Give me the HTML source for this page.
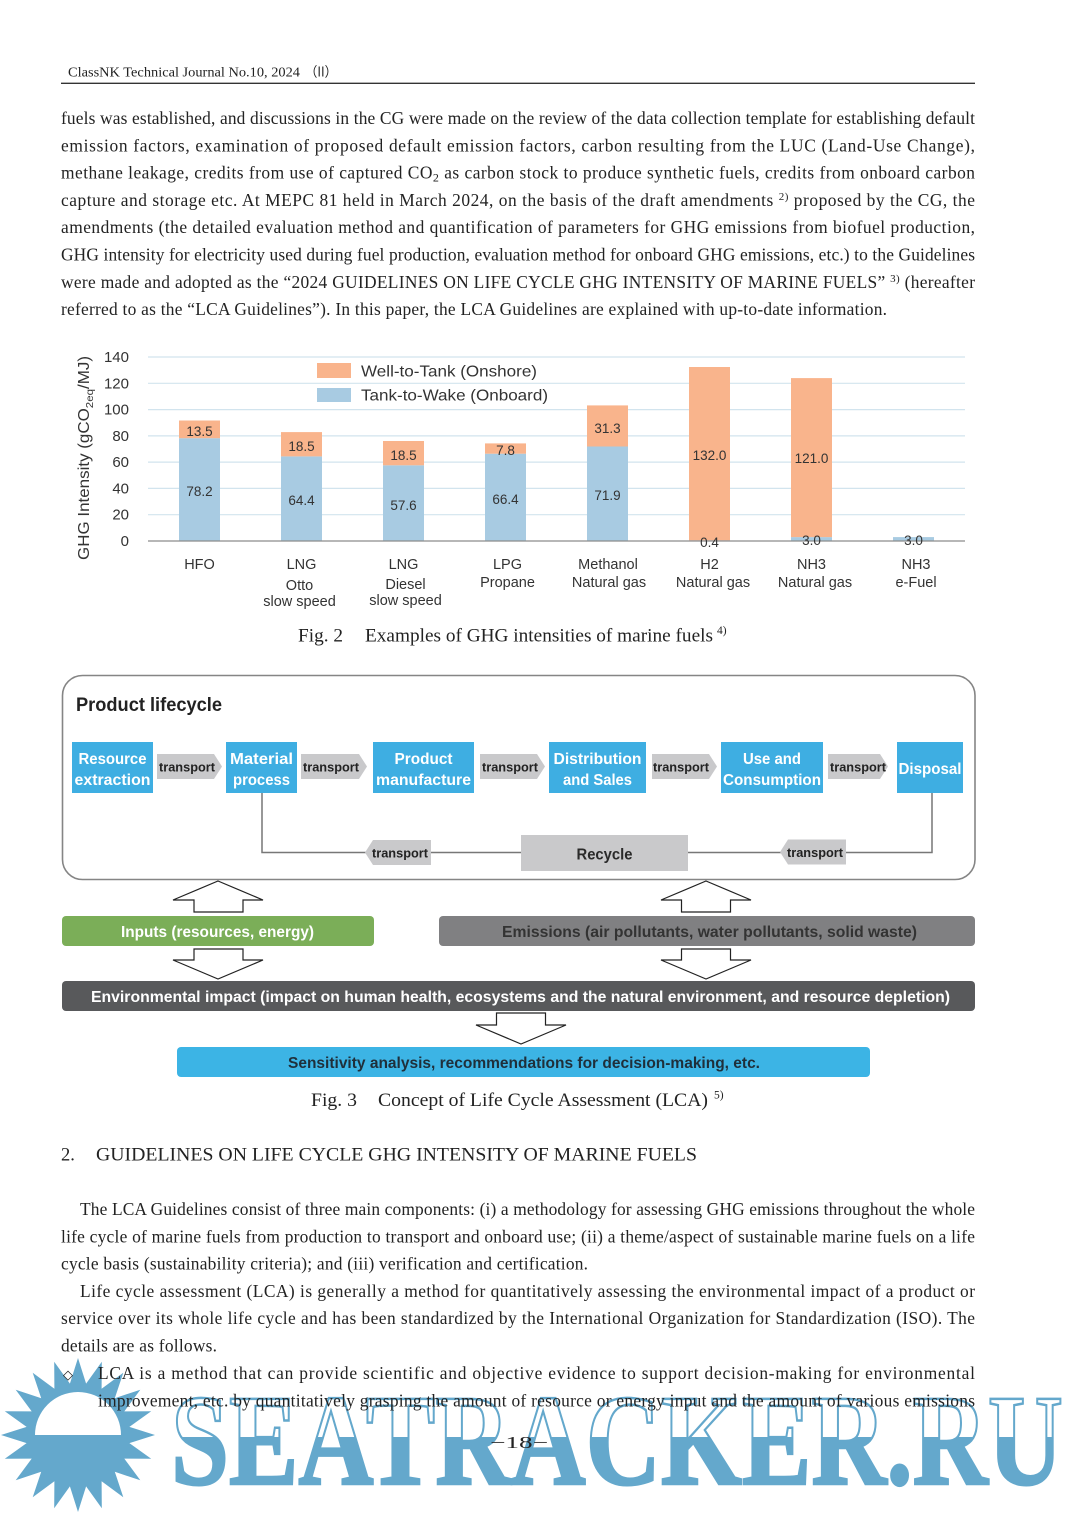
<!DOCTYPE html>
<html><head><meta charset="utf-8"><style>
html,body{margin:0;padding:0;background:#fff}
svg{display:block}
</style></head><body>
<svg width="1080" height="1515" viewBox="0 0 1080 1515" xmlns="http://www.w3.org/2000/svg">
<defs>
<linearGradient id="wm" x1="0" y1="1398" x2="0" y2="1484" gradientUnits="userSpaceOnUse">
<stop offset="0" stop-color="#64a8cc" stop-opacity="0"/>
<stop offset="0.453" stop-color="#64a8cc" stop-opacity="0"/>
<stop offset="0.453" stop-color="#64a8cc" stop-opacity="1"/>
<stop offset="1" stop-color="#64a8cc" stop-opacity="1"/>
</linearGradient>
</defs>
<rect width="1080" height="1515" fill="#fff"/>

<!-- Watermark (drawn first, text on top) -->
<polygon fill="#64a8cc" points="78,1358 86.1,1383.6 101.8,1361.8 101.6,1388.7 123.3,1372.7 114.8,1398.2 140.3,1389.7 124.3,1411.4 151.2,1411.2 129.4,1426.9 155,1435 129.4,1443.1 151.2,1458.8 124.3,1458.6 140.3,1480.3 114.8,1471.8 123.3,1497.3 101.6,1481.3 101.8,1508.2 86.1,1486.4 78,1512 69.9,1486.4 54.2,1508.2 54.4,1481.3 32.7,1497.3 41.2,1471.8 15.7,1480.3 31.7,1458.6 4.8,1458.8 26.6,1443.1 1,1435 26.6,1426.9 4.8,1411.2 31.7,1411.4 15.7,1389.7 41.2,1398.2 32.7,1372.7 54.4,1388.7 54.2,1361.8 69.9,1383.6"/>
<path d="M35,1435 A43,43 0 0 1 121,1435 Z" fill="#fff"/>
<text x="171" y="1484" font-family="'Liberation Serif', serif" font-weight="bold" font-size="130" textLength="892" lengthAdjust="spacingAndGlyphs" fill="url(#wm)" stroke="#64a8cc" stroke-width="2.5">SEATRACKER.RU</text>

<!-- Header -->
<g font-family="'Liberation Serif', 'Noto Serif CJK SC', serif" fill="#222">
<text x="68" y="76.5" font-size="13.5" textLength="232" lengthAdjust="spacingAndGlyphs">ClassNK Technical Journal No.10, 2024</text>
<text x="305" y="76.5" font-size="13.5" font-family="'Noto Sans CJK JP', sans-serif" textLength="32" lengthAdjust="spacingAndGlyphs">（II）</text>
</g>
<line x1="61" y1="83.3" x2="975" y2="83.3" stroke="#333" stroke-width="1.3"/>

<!-- Body text block 1 -->
<g font-family="'Liberation Serif', serif" font-size="17.4" fill="#222">
<text x="61" y="124" textLength="914" lengthAdjust="spacing">fuels was established, and discussions in the CG were made on the review of the data collection template for establishing default</text>
<text x="61" y="151.3" textLength="914" lengthAdjust="spacing">emission factors, examination of proposed default emission factors, carbon resulting from the LUC (Land-Use Change),</text>
<text x="61" y="178.6" textLength="914" lengthAdjust="spacing">methane leakage, credits from use of captured CO<tspan dy="3" font-size="12">2</tspan><tspan dy="-3"> as carbon stock to produce synthetic fuels, credits from onboard carbon</tspan></text>
<text x="61" y="205.9" textLength="914" lengthAdjust="spacing">capture and storage etc. At MEPC 81 held in March 2024, on the basis of the draft amendments <tspan dy="-6" font-size="11">2)</tspan><tspan dy="6"> proposed by the CG, the</tspan></text>
<text x="61" y="233.2" textLength="914" lengthAdjust="spacing">amendments (the detailed evaluation method and quantification of parameters for GHG emissions from biofuel production,</text>
<text x="61" y="260.5" textLength="914" lengthAdjust="spacing">GHG intensity for electricity used during fuel production, evaluation method for onboard GHG emissions, etc.) to the Guidelines</text>
<text x="61" y="287.8" textLength="914" lengthAdjust="spacing">were made and adopted as the “2024 GUIDELINES ON LIFE CYCLE GHG INTENSITY OF MARINE FUELS” <tspan dy="-6" font-size="11">3)</tspan><tspan dy="6"> (hereafter</tspan></text>
<text x="61" y="315.1" textLength="826" lengthAdjust="spacing">referred to as the “LCA Guidelines”). In this paper, the LCA Guidelines are explained with up-to-date information.</text>
</g>

<!-- Chart (Fig. 2) -->
<g>
<g stroke="#d2e4ee" stroke-width="1.2">
<line x1="148" y1="357" x2="965" y2="357"/>
<line x1="148" y1="383.3" x2="965" y2="383.3"/>
<line x1="148" y1="409.6" x2="965" y2="409.6"/>
<line x1="148" y1="435.9" x2="965" y2="435.9"/>
<line x1="148" y1="462.1" x2="965" y2="462.1"/>
<line x1="148" y1="488.4" x2="965" y2="488.4"/>
<line x1="148" y1="514.7" x2="965" y2="514.7"/>
</g>
<g fill="#a8cbe2">
<rect x="179" y="438.2" width="41" height="102.8"/>
<rect x="281" y="456.4" width="41" height="84.6"/>
<rect x="383" y="465.3" width="41" height="75.7"/>
<rect x="485" y="453.7" width="41" height="87.3"/>
<rect x="587" y="446.5" width="41" height="94.5"/>
<rect x="689" y="540.3" width="41" height="0.7"/>
<rect x="791" y="537.1" width="41" height="3.9"/>
<rect x="893" y="537.1" width="41" height="3.9"/>
</g>
<g fill="#f9b48c">
<rect x="179" y="420.5" width="41" height="17.7"/>
<rect x="281" y="432.1" width="41" height="24.3"/>
<rect x="383" y="441.0" width="41" height="24.3"/>
<rect x="485" y="443.4" width="41" height="10.3"/>
<rect x="587" y="405.4" width="41" height="41.1"/>
<rect x="689" y="367.0" width="41" height="173.3"/>
<rect x="791" y="378.1" width="41" height="159"/>
</g>
<line x1="148" y1="541" x2="965" y2="541" stroke="#8c8c8c" stroke-width="1.3"/>

<g font-family="'Liberation Sans', sans-serif" font-size="15" fill="#333" text-anchor="end">
<text x="129" y="362">140</text>
<text x="129" y="388.3">120</text>
<text x="129" y="414.6">100</text>
<text x="129" y="440.9">80</text>
<text x="129" y="467.1">60</text>
<text x="129" y="493.4">40</text>
<text x="129" y="519.7">20</text>
<text x="129" y="546">0</text>
</g>

<g font-family="'Liberation Sans', sans-serif" font-size="13.5" fill="#333" text-anchor="middle">
<text x="199.5" y="436">13.5</text>
<text x="199.5" y="496">78.2</text>
<text x="301.5" y="451">18.5</text>
<text x="301.5" y="505">64.4</text>
<text x="403.5" y="460">18.5</text>
<text x="403.5" y="510">57.6</text>
<text x="505.5" y="455">7.8</text>
<text x="505.5" y="504">66.4</text>
<text x="607.5" y="433">31.3</text>
<text x="607.5" y="500">71.9</text>
<text x="709.5" y="460">132.0</text>
<text x="709.5" y="547">0.4</text>
<text x="811.5" y="463">121.0</text>
<text x="811.5" y="545">3.0</text>
<text x="913.5" y="545">3.0</text>
</g>

<g font-family="'Liberation Sans', sans-serif" font-size="14.5" fill="#333" text-anchor="middle">
<text x="199.5" y="569">HFO</text>
<text x="301.5" y="569">LNG</text>
<text x="299.5" y="590">Otto</text>
<text x="299.5" y="606">slow speed</text>
<text x="403.5" y="569">LNG</text>
<text x="405.5" y="589">Diesel</text>
<text x="405.5" y="605">slow speed</text>
<text x="507.5" y="569">LPG</text>
<text x="507.5" y="587">Propane</text>
<text x="608" y="569">Methanol</text>
<text x="609" y="587">Natural gas</text>
<text x="709.5" y="569">H2</text>
<text x="713" y="587">Natural gas</text>
<text x="811.5" y="569">NH3</text>
<text x="815" y="587">Natural gas</text>
<text x="916" y="569">NH3</text>
<text x="916" y="587">e-Fuel</text>
</g>

<!-- legend -->
<rect x="317" y="363" width="34" height="15" fill="#f9b48c"/>
<rect x="317" y="388" width="34" height="14" fill="#a8cbe2"/>
<g font-family="'Liberation Sans', sans-serif" font-size="16" fill="#333">
<text x="361" y="376.5" textLength="176" lengthAdjust="spacingAndGlyphs">Well-to-Tank (Onshore)</text>
<text x="361" y="400.5" textLength="187" lengthAdjust="spacingAndGlyphs">Tank-to-Wake (Onboard)</text>
</g>

<!-- y axis title -->
<text transform="translate(89,560) rotate(-90)" font-family="'Liberation Sans', sans-serif" font-size="15.5" fill="#333" textLength="204" lengthAdjust="spacingAndGlyphs">GHG Intensity (gCO<tspan font-size="10.5" dy="4">2eq</tspan><tspan dy="-4">/MJ)</tspan></text>
</g>

<!-- Fig 2 caption -->
<g font-family="'Liberation Serif', serif" font-size="19" fill="#222">
<text x="298" y="641.5" textLength="45" lengthAdjust="spacingAndGlyphs">Fig. 2</text>
<text x="365" y="641.5" textLength="348" lengthAdjust="spacingAndGlyphs">Examples of GHG intensities of marine fuels</text>
<text x="717" y="634" font-size="11.5">4)</text>
</g>

<!-- Fig 3 -->
<rect x="62.5" y="675.5" width="912.5" height="204" rx="20" ry="20" fill="#fff" stroke="#858585" stroke-width="1.6"/>
<text x="76" y="711" font-family="'Liberation Sans', sans-serif" font-weight="bold" font-size="19.5" fill="#222" textLength="146" lengthAdjust="spacingAndGlyphs">Product lifecycle</text>

<polyline points="262,793 262,852.5 366,852.5" fill="none" stroke="#777" stroke-width="1.5"/>
<line x1="431" y1="852.5" x2="521" y2="852.5" stroke="#777" stroke-width="1.5"/>
<line x1="688" y1="852.5" x2="781" y2="852.5" stroke="#777" stroke-width="1.5"/>
<polyline points="846,852.5 932,852.5 932,793" fill="none" stroke="#777" stroke-width="1.5"/>

<g fill="#3eaee2">
<rect x="72" y="742" width="81" height="51"/>
<rect x="226" y="742" width="71" height="51"/>
<rect x="373" y="742" width="101" height="51"/>
<rect x="549" y="742" width="97" height="51"/>
<rect x="721" y="742" width="102" height="51"/>
<rect x="897" y="742" width="66" height="51"/>
</g>
<g fill="#c9c9cb">
<polygon points="157,754 214,754 222,766.5 214,779 157,779"/>
<polygon points="301,754 359,754 367,766.5 359,779 301,779"/>
<polygon points="480,754 537,754 545,766.5 537,779 480,779"/>
<polygon points="652,754 709,754 717,766.5 709,779 652,779"/>
<polygon points="828,754 880,754 888,766.5 880,779 828,779"/>
<polygon points="373,840 431,840 431,865 373,865 365,852.5"/>
<polygon points="788,839.5 846,839.5 846,864.5 788,864.5 780,852"/>
<rect x="521" y="835" width="167" height="36"/>
</g>
<g font-family="'Liberation Sans', sans-serif" font-weight="bold" font-size="16" fill="#fff" text-anchor="middle">
<text x="112.5" y="764" textLength="68" lengthAdjust="spacingAndGlyphs">Resource</text>
<text x="112.5" y="785" textLength="76" lengthAdjust="spacingAndGlyphs">extraction</text>
<text x="261.5" y="764" textLength="63" lengthAdjust="spacingAndGlyphs">Material</text>
<text x="261.5" y="785" textLength="57" lengthAdjust="spacingAndGlyphs">process</text>
<text x="423.5" y="764" textLength="58" lengthAdjust="spacingAndGlyphs">Product</text>
<text x="423.5" y="785" textLength="95" lengthAdjust="spacingAndGlyphs">manufacture</text>
<text x="597.5" y="764" textLength="88" lengthAdjust="spacingAndGlyphs">Distribution</text>
<text x="597.5" y="785" textLength="69" lengthAdjust="spacingAndGlyphs">and Sales</text>
<text x="772" y="764" textLength="58" lengthAdjust="spacingAndGlyphs">Use and</text>
<text x="772" y="785" textLength="98" lengthAdjust="spacingAndGlyphs">Consumption</text>
<text x="930" y="774" textLength="63" lengthAdjust="spacingAndGlyphs">Disposal</text>
</g>
<g font-family="'Liberation Sans', sans-serif" font-weight="bold" font-size="13" fill="#222" text-anchor="middle">
<text x="187" y="771.5" textLength="56" lengthAdjust="spacingAndGlyphs">transport</text>
<text x="331" y="771.5" textLength="56" lengthAdjust="spacingAndGlyphs">transport</text>
<text x="510" y="771.5" textLength="56" lengthAdjust="spacingAndGlyphs">transport</text>
<text x="681" y="771.5" textLength="56" lengthAdjust="spacingAndGlyphs">transport</text>
<text x="858" y="771.5" textLength="56" lengthAdjust="spacingAndGlyphs">transport</text>
<text x="400" y="857.5" textLength="56" lengthAdjust="spacingAndGlyphs">transport</text>
<text x="815" y="857" textLength="56" lengthAdjust="spacingAndGlyphs">transport</text>
</g>
<text x="604.5" y="859.5" font-family="'Liberation Sans', sans-serif" font-weight="bold" font-size="16" fill="#2a2a2a" text-anchor="middle" textLength="56" lengthAdjust="spacingAndGlyphs">Recycle</text>

<g fill="#fff" stroke="#222" stroke-width="1.2">
<polygon points="218,881 263,900 243,900 243,912 194,912 194,900 173,900"/>
<polygon points="706,881 751,900 730.5,900 730.5,912 681.5,912 681.5,900 661,900"/>
<polygon points="194,949 243,949 243,960 263,960 218,979 173,960 194,960"/>
<polygon points="681.5,949 730.5,949 730.5,960 751,960 706,979 661,960 681.5,960"/>
<polygon points="496.5,1013 545.5,1013 545.5,1025 566,1025 521,1044 476,1025 496.5,1025"/>
</g>

<rect x="62" y="916" width="312" height="30" rx="4" fill="#7bae58"/>
<rect x="439" y="916" width="536" height="30" rx="4" fill="#808082"/>
<rect x="62" y="981" width="913" height="30" rx="4" fill="#58595b"/>
<rect x="177" y="1047" width="693" height="30" rx="4" fill="#3cb4e5"/>
<g font-family="'Liberation Sans', sans-serif" font-weight="bold" font-size="15.5" text-anchor="middle">
<text x="217.5" y="937" fill="#fff" textLength="193" lengthAdjust="spacingAndGlyphs">Inputs (resources, energy)</text>
<text x="709.5" y="937" fill="#333" textLength="415" lengthAdjust="spacingAndGlyphs">Emissions (air pollutants, water pollutants, solid waste)</text>
<text x="520.5" y="1002" fill="#fff" textLength="859" lengthAdjust="spacingAndGlyphs">Environmental impact (impact on human health, ecosystems and the natural environment, and resource depletion)</text>
<text x="524" y="1068" fill="#1f2f3a" textLength="472" lengthAdjust="spacingAndGlyphs">Sensitivity analysis, recommendations for decision-making, etc.</text>
</g>

<!-- Fig 3 caption -->
<g font-family="'Liberation Serif', serif" font-size="19" fill="#222">
<text x="311" y="1106" textLength="46" lengthAdjust="spacingAndGlyphs">Fig. 3</text>
<text x="378" y="1106" textLength="330" lengthAdjust="spacingAndGlyphs">Concept of Life Cycle Assessment (LCA)</text>
<text x="714" y="1098.5" font-size="11.5">5)</text>
</g>

<!-- Section 2 -->
<g font-family="'Liberation Serif', serif" fill="#222">
<text x="61" y="1160.5" font-size="18.5">2.</text>
<text x="96" y="1160.5" font-size="18.5" textLength="601" lengthAdjust="spacingAndGlyphs">GUIDELINES ON LIFE CYCLE GHG INTENSITY OF MARINE FUELS</text>
</g>
<g font-family="'Liberation Serif', serif" font-size="17.4" fill="#222">
<text x="80" y="1215" textLength="895" lengthAdjust="spacing">The LCA Guidelines consist of three main components: (i) a methodology for assessing GHG emissions throughout the whole</text>
<text x="61" y="1242.3" textLength="914" lengthAdjust="spacing">life cycle of marine fuels from production to transport and onboard use; (ii) a theme/aspect of sustainable marine fuels on a life</text>
<text x="61" y="1269.6" textLength="527" lengthAdjust="spacing">cycle basis (sustainability criteria); and (iii) verification and certification.</text>
<text x="80" y="1296.9" textLength="895" lengthAdjust="spacing">Life cycle assessment (LCA) is generally a method for quantitatively assessing the environmental impact of a product or</text>
<text x="61" y="1324.2" textLength="914" lengthAdjust="spacing">service over its whole life cycle and has been standardized by the International Organization for Standardization (ISO). The</text>
<text x="61" y="1351.5" textLength="156" lengthAdjust="spacing">details are as follows.</text>
<text x="63" y="1379" font-family="'DejaVu Sans', sans-serif" font-size="13">◇</text>
<text x="98" y="1379" textLength="877" lengthAdjust="spacing">LCA is a method that can provide scientific and objective evidence to support decision-making for environmental</text>
<text x="98" y="1406.5" textLength="877" lengthAdjust="spacing">improvement, etc. by quantitatively grasping the amount of resource or energy input and the amount of various emissions</text>
<text x="490" y="1448" font-size="17" textLength="58" lengthAdjust="spacingAndGlyphs">−18−</text>
</g>
</svg>
</body></html>
